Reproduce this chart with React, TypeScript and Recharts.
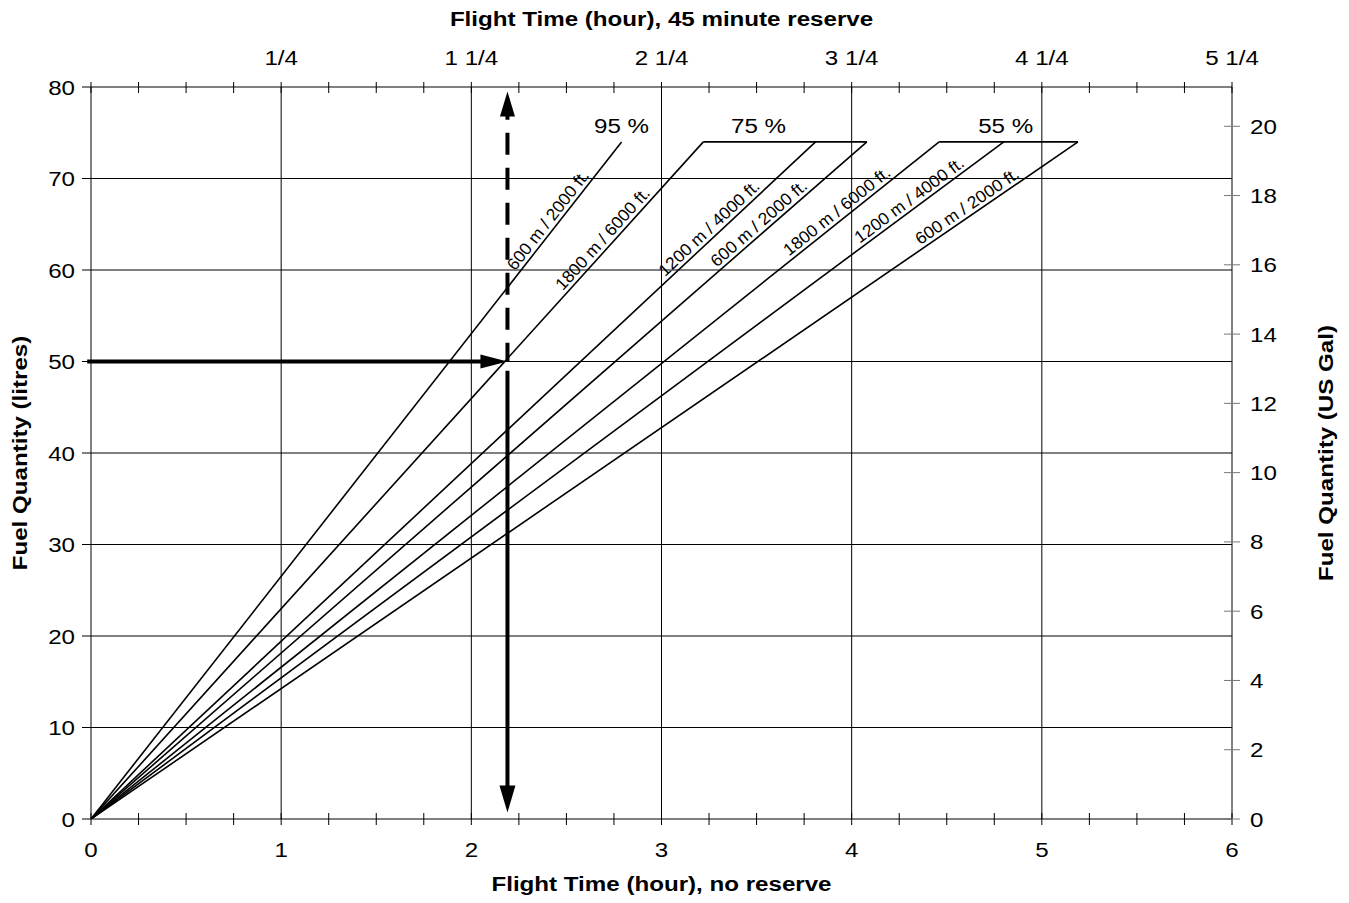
import { LineChart, Line, XAxis, YAxis, ReferenceLine, ReferenceDot } from 'recharts';

const QUARTER_TICKS = [
  0, 0.25, 0.5, 0.75, 1, 1.25, 1.5, 1.75, 2, 2.25, 2.5, 2.75, 3, 3.25, 3.5, 3.75, 4, 4.25,
  4.5, 4.75, 5, 5.25, 5.5, 5.75, 6,
];
const LITRE_TICKS = [0, 10, 20, 30, 40, 50, 60, 70, 80];
const GAL_TICKS = [0, 2, 4, 6, 8, 10, 12, 14, 16, 18, 20];
const TOP_TICK_HOURS = [1, 2, 3, 4, 5, 6];
const TOP_TICK_LABELS = ['1/4', '1 1/4', '2 1/4', '3 1/4', '4 1/4', '5 1/4'];
const GRID_HOURS = [1, 2, 3, 4, 5];
const GRID_LITRES = [10, 20, 30, 40, 50, 60, 70];
const LITRES_PER_GAL = 3.78541;

// one line per altitude / power setting, from empty to full tank
const ALTITUDES = [
  '600 m / 2000 ft.',
  '1800 m / 6000 ft.',
  '1200 m / 4000 ft.',
  '600 m / 2000 ft.',
  '1800 m / 6000 ft.',
  '1200 m / 4000 ft.',
  '600 m / 2000 ft.',
];
const ENDURANCE_H = [2.79, 3.22, 3.81, 4.08, 4.46, 4.8, 5.19];
const LABEL_LITRES = [64.8, 62.7, 63.8, 64.3, 65.6, 66.8, 66.1];
const FULL_TANK = 74;

const POWER_LABELS = ['95 %', '75 %', '55 %'];
const POWER_LABEL_HOURS = [2.79, 3.51, 4.81];
const POWER_LABEL_LITRES = 75.0;
const CAP_FROM = [3.22, 4.46];
const CAP_TO = [4.08, 5.19];

// worked example
const EXAMPLE_LITRES = 50;
const EXAMPLE_HOURS = 2.19;
const ARROW_TOP = 79.5;
const ARROW_BOTTOM = 0.7;

const W = 1349;
const H = 903;
const PLOT = { left: 91, top: 87, right: 1232, bottom: 819 };
const PX_PER_H = (PLOT.right - PLOT.left) / 6;
const PX_PER_L = (PLOT.bottom - PLOT.top) / 80;

const FONT = '"Liberation Sans", Arial, Helvetica, sans-serif';

function WideText({ x, y, angle = 0, dy = 0, anchor = 'middle', size = 21, bold = false, stretch = 1.15, children }: any) {
  return (
    <text
      transform={`translate(${x},${y}) rotate(${angle}) translate(0,${dy}) scale(${stretch},1)`}
      textAnchor={anchor}
      fontSize={size}
      fontFamily={FONT}
      fontWeight={bold ? 700 : 400}
      fill="#000"
    >
      {children}
    </text>
  );
}

function BottomTick({ x, y, payload }: any) {
  const v = payload.value;
  return (
    <g>
      <line x1={x} x2={x} y1={y - 6} y2={y + 6} stroke="#000" />
      {Number.isInteger(v) && (
        <WideText x={x} y={y + 38}>
          {v}
        </WideText>
      )}
    </g>
  );
}

function TopTick({ x, y, payload }: any) {
  const i = TOP_TICK_HOURS.indexOf(payload.value);
  return (
    <g>
      <line x1={x} x2={x} y1={y - 5} y2={y + 6} stroke="#000" />
      {i >= 0 && (
        <WideText x={x} y={y - 22}>
          {TOP_TICK_LABELS[i]}
        </WideText>
      )}
    </g>
  );
}

function LeftTick({ x, y, payload }: any) {
  return (
    <g>
      <line x1={x - 9} x2={x} y1={y} y2={y} stroke="#000" />
      <WideText x={x - 16} y={y + 7.5} anchor="end">
        {payload.value}
      </WideText>
    </g>
  );
}

function RightTick({ x, y, payload }: any) {
  return (
    <g>
      <line x1={x - 8} x2={x + 8} y1={y} y2={y} stroke="#777" />
      <WideText x={x + 18} y={y + 7.5} anchor="start">
        {payload.value}
      </WideText>
    </g>
  );
}

const lineData = ENDURANCE_H.map((h) => [
  { t: 0, l: 0 },
  { t: h, l: FULL_TANK },
]);
const capData = CAP_FROM.map((a, i) => [
  { t: a, l: FULL_TANK },
  { t: CAP_TO[i], l: FULL_TANK },
]);

const ids = { xAxisId: 'bottom', yAxisId: 'left' } as const;

export default function App() {
  return (
    <div style={{ position: 'absolute', left: 0, top: 0, background: '#fff' }}>
      <LineChart
        width={W}
        height={H}
        margin={{ top: PLOT.top - 30, right: W - PLOT.right - 60, bottom: H - PLOT.bottom - 30, left: PLOT.left - 40 }}
      >
        <XAxis
          xAxisId="bottom"
          type="number"
          dataKey="t"
          domain={[0, 6]}
          ticks={QUARTER_TICKS}
          interval={0}
          height={30}
          tickLine={false}
          tickSize={0}
          tickMargin={0}
          tick={<BottomTick />}
          axisLine={{ stroke: '#000' }}
          allowDataOverflow
          label={(p: any) => {
            const vb = p.viewBox ?? { x: PLOT.left, y: PLOT.bottom, width: PLOT.right - PLOT.left };
            return (
              <WideText x={vb.x + vb.width / 2} y={vb.y + 72} bold>
                Flight Time (hour), no reserve
              </WideText>
            );
          }}
        />
        <XAxis
          xAxisId="top"
          orientation="top"
          type="number"
          dataKey="t"
          domain={[0, 6]}
          ticks={QUARTER_TICKS}
          interval={0}
          height={30}
          tickLine={false}
          tickSize={0}
          tickMargin={0}
          tick={<TopTick />}
          axisLine={{ stroke: '#000' }}
          allowDataOverflow
          label={(p: any) => {
            const vb = p.viewBox ?? { x: PLOT.left, y: PLOT.top - 30, width: PLOT.right - PLOT.left, height: 30 };
            return (
              <WideText x={vb.x + vb.width / 2} y={vb.y + vb.height - 61} bold>
                Flight Time (hour), 45 minute reserve
              </WideText>
            );
          }}
        />
        <YAxis
          yAxisId="left"
          type="number"
          domain={[0, 80]}
          ticks={LITRE_TICKS}
          interval={0}
          width={40}
          tickLine={false}
          tickSize={0}
          tickMargin={0}
          tick={<LeftTick />}
          axisLine={{ stroke: '#000' }}
          allowDataOverflow
          label={(p: any) => {
            const vb = p.viewBox ?? { x: PLOT.left - 40, y: PLOT.top, width: 40, height: PLOT.bottom - PLOT.top };
            return (
              <WideText x={27} y={vb.y + vb.height / 2} angle={-90} bold>
                Fuel Quantity (litres)
              </WideText>
            );
          }}
        />
        <YAxis
          yAxisId="right"
          orientation="right"
          type="number"
          domain={[0, 80 / LITRES_PER_GAL]}
          ticks={GAL_TICKS}
          interval={0}
          width={60}
          tickLine={false}
          tickSize={0}
          tickMargin={0}
          tick={<RightTick />}
          axisLine={{ stroke: '#000' }}
          allowDataOverflow
          label={(p: any) => {
            const vb = p.viewBox ?? { x: PLOT.right, y: PLOT.top, width: 60, height: PLOT.bottom - PLOT.top };
            return (
              <WideText x={1333} y={vb.y + vb.height / 2} angle={-90} bold>
                Fuel Quantity (US Gal)
              </WideText>
            );
          }}
        />

        {GRID_HOURS.map((h) => (
          <ReferenceLine key={`gx${h}`} {...ids} x={h} stroke="#000" strokeWidth={1} />
        ))}
        {GRID_LITRES.map((v) => (
          <ReferenceLine key={`gy${v}`} {...ids} y={v} stroke="#000" strokeWidth={1} />
        ))}

        {lineData.map((d, i) => (
          <Line
            key={`l${i}`}
            {...ids}
            data={d}
            dataKey="l"
            stroke="#000"
            strokeWidth={1.6}
            dot={false}
            activeDot={false}
            isAnimationActive={false}
          />
        ))}
        {capData.map((d, i) => (
          <Line
            key={`c${i}`}
            {...ids}
            data={d}
            dataKey="l"
            stroke="#000"
            strokeWidth={1.6}
            dot={false}
            activeDot={false}
            isAnimationActive={false}
          />
        ))}

        {ALTITUDES.map((name, i) => {
          const l = LABEL_LITRES[i];
          const angle = (-Math.atan2(FULL_TANK * PX_PER_L, ENDURANCE_H[i] * PX_PER_H) * 180) / Math.PI;
          return (
            <ReferenceDot
              key={`lab${i}`}
              {...ids}
              x={(ENDURANCE_H[i] * l) / FULL_TANK}
              y={l}
              r={0}
              shape={(p: any) => (
                <WideText x={p.cx} y={p.cy} angle={angle} dy={-4} size={17} stretch={1.03}>
                  {name}
                </WideText>
              )}
            />
          );
        })}
        {POWER_LABELS.map((s, i) => (
          <ReferenceDot
            key={`p${i}`}
            {...ids}
            x={POWER_LABEL_HOURS[i]}
            y={POWER_LABEL_LITRES}
            r={0}
            shape={(p: any) => (
              <WideText x={p.cx} y={p.cy}>
                {s}
              </WideText>
            )}
          />
        ))}

        {/* worked example: 50 litres -> about 2.2 hours */}
        <ReferenceLine
          {...ids}
          segment={[
            { x: -0.02, y: EXAMPLE_LITRES },
            { x: EXAMPLE_HOURS - 0.09, y: EXAMPLE_LITRES },
          ]}
          stroke="#000"
          strokeWidth={4}
          ifOverflow="visible"
        />
        <ReferenceDot
          {...ids}
          x={EXAMPLE_HOURS}
          y={EXAMPLE_LITRES}
          r={0}
          shape={(p: any) => (
            <polygon points={`${p.cx},${p.cy} ${p.cx - 27},${p.cy - 7} ${p.cx - 27},${p.cy + 7}`} fill="#000" />
          )}
        />
        <ReferenceLine
          {...ids}
          segment={[
            { x: EXAMPLE_HOURS, y: ARROW_TOP - 2.2 },
            { x: EXAMPLE_HOURS, y: EXAMPLE_LITRES },
          ]}
          stroke="#000"
          strokeWidth={4}
          strokeDasharray="22 13"
          strokeDashoffset={14}
        />
        <ReferenceDot
          {...ids}
          x={EXAMPLE_HOURS}
          y={ARROW_TOP}
          r={0}
          shape={(p: any) => (
            <polygon points={`${p.cx},${p.cy} ${p.cx - 7.5},${p.cy + 25} ${p.cx + 7.5},${p.cy + 25}`} fill="#000" />
          )}
        />
        <ReferenceLine
          {...ids}
          segment={[
            { x: EXAMPLE_HOURS, y: EXAMPLE_LITRES - 1 },
            { x: EXAMPLE_HOURS, y: ARROW_BOTTOM + 2.3 },
          ]}
          stroke="#000"
          strokeWidth={4}
        />
        <ReferenceDot
          {...ids}
          x={EXAMPLE_HOURS}
          y={ARROW_BOTTOM}
          r={0}
          shape={(p: any) => (
            <polygon points={`${p.cx},${p.cy} ${p.cx - 8},${p.cy - 27} ${p.cx + 8},${p.cy - 27}`} fill="#000" />
          )}
        />
      </LineChart>
    </div>
  );
}
